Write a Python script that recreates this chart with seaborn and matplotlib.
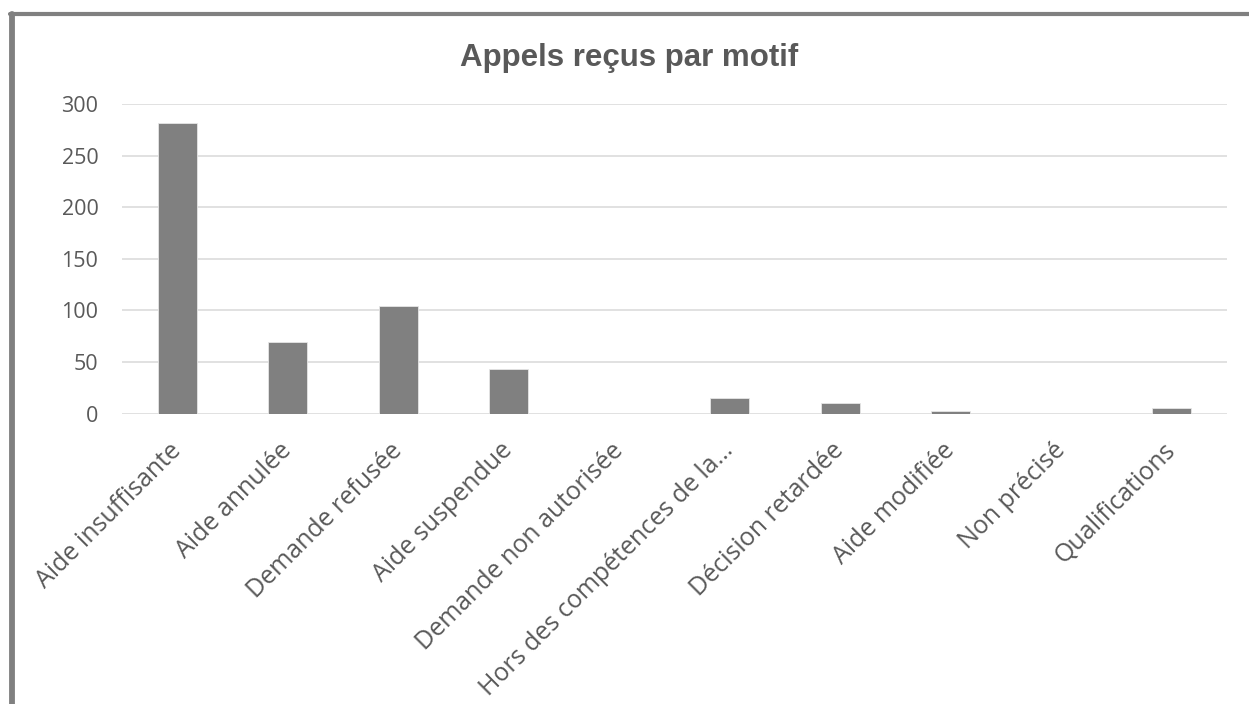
import matplotlib
matplotlib.use("Agg")
import matplotlib.pyplot as plt
import seaborn as sns
from matplotlib.lines import Line2D

motifs = ["Aide insuffisante", "Aide annulée", "Demande refusée", "Aide suspendue",
          "Demande non autorisée", "Hors des compétences de la…", "Décision retardée",
          "Aide modifiée", "Non précisé", "Qualifications"]
appels = [282, 69, 104, 43, 0, 15, 10, 2, 0, 5]
yticks = [0, 50, 100, 150, 200, 250, 300]

sns.set_style("white")
plt.rcParams["font.family"] = ["Open Sans", "DejaVu Sans"]

fig = plt.figure(figsize=(12.49, 7.04), dpi=100)
ax = fig.add_axes([0.0977, 0.4126, 0.8847, 0.4396])

sns.barplot(x=motifs, y=appels, color="#808080", saturation=1, width=0.356,
            edgecolor="#e6e6e6", linewidth=0.6, ax=ax, zorder=3)

ax.set_ylim(0, 300)
ax.set_xlim(-0.5, len(motifs) - 0.5)
ax.set_yticks(yticks)
ax.set_yticklabels([str(t) for t in yticks], color="#595959", fontsize=15.5)
ax.grid(axis="y", color="#d9d9d9", linewidth=1.1, zorder=0)
ax.set_axisbelow(True)
for s in ax.spines.values():
    s.set_visible(False)
ax.tick_params(axis="both", length=0)
ax.tick_params(axis="y", pad=17)
ax.set_xlabel("")
ax.set_ylabel("")

ax.set_xticks(range(len(motifs)))
ax.set_xticklabels(motifs, rotation=45, ha="right", va="center",
                   rotation_mode="anchor", color="#595959", fontsize=18)
ax.tick_params(axis="x", pad=24)

fig.text(0.504, 0.918, "Appels reçus par motif", ha="center", va="center",
         fontsize=22.5, fontweight="bold", color="#595959", family="Liberation Sans")

# cadre du graphique (gauche et haut)
fig.add_artist(Line2D([0.0098, 0.0098], [0.0, 0.9795], transform=fig.transFigure,
                      color="#808080", linewidth=4.2))
fig.add_artist(Line2D([0.0082, 1.0], [0.9795, 0.9795], transform=fig.transFigure,
                      color="#808080", linewidth=3))

fig.savefig("out.png", dpi=100)
